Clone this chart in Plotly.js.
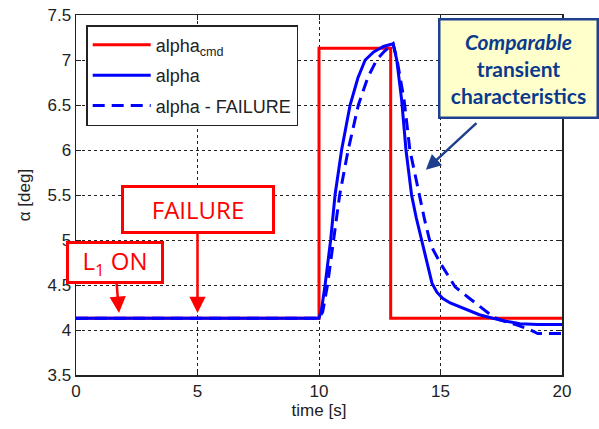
<!DOCTYPE html>
<html>
<head>
<meta charset="utf-8">
<script src="https://cdn.plot.ly/plotly-3.0.1.min.js"></script>
<style>html,body{margin:0;padding:0;background:#fff;}#chart{width:599px;height:429px;}</style>
</head>
<body>
<div id="chart"></div>
<script>
// alpha command (step)
const timeCmd = [0, 10, 10, 12.95, 12.95, 20];
const alphaCmd = [4.13, 4.13, 7.13, 7.13, 4.13, 4.13];

// alpha response (nominal)
const timeAlpha = [0, 10, 10.1, 10.25, 10.48, 10.66, 10.93, 11.28, 11.6, 11.9, 12.25, 12.65, 12.9, 13.05, 13.2, 13.4, 13.58, 13.81, 14.0, 14.16, 14.43, 14.65, 14.85, 15.1, 15.4, 15.94, 16.6, 17.45, 18.27, 19, 20];
const alpha = [4.13, 4.13, 4.22, 4.5, 5.0, 5.5, 6.0, 6.5, 6.8, 7.0, 7.09, 7.15, 7.17, 7.18, 7.0, 6.56, 6.0, 5.5, 5.25, 5.07, 4.74, 4.52, 4.42, 4.35, 4.3, 4.24, 4.17, 4.11, 4.07, 4.06, 4.06];

// alpha response with failure
const timeFail = [0, 10, 10.15, 10.35, 10.6, 10.85, 11.2, 11.62, 12.0, 12.37, 12.7, 12.95, 13.05, 13.2, 13.5, 13.74, 13.93, 14.13, 14.35, 14.55, 14.7, 15.0, 15.39, 15.6, 16.2, 16.4, 17.0, 17.2, 17.6, 18.1, 18.7, 19, 20];
const alphaFail = [4.13, 4.13, 4.2, 4.5, 5.0, 5.5, 6.0, 6.5, 6.8, 7.0, 7.1, 7.16, 7.18, 7.02, 6.56, 6.0, 5.75, 5.5, 5.22, 5.0, 4.89, 4.74, 4.57, 4.48, 4.35, 4.31, 4.19, 4.14, 4.1, 4.06, 4.0, 3.96, 3.96];

const xTicks = [0, 5, 10, 15, 20];
const yTicks = [3.5, 4, 4.5, 5, 5.5, 6, 6.5, 7, 7.5];

const traces = [
  {x: timeCmd, y: alphaCmd, type: 'scatter', mode: 'lines', name: 'alpha<sub>cmd</sub>',
   line: {color: '#ff0000', width: 3}, legendgroup: 'a'},
  {x: timeAlpha, y: alpha, type: 'scatter', mode: 'lines', name: 'alpha',
   line: {color: '#0000ff', width: 3}, legendgroup: 'b'},
  {x: timeFail, y: alphaFail, type: 'scatter', mode: 'lines', name: 'alpha - FAILURE',
   line: {color: '#0000ff', width: 3, dash: '12px,7px'}, legendgroup: 'c'}
];

const axisCommon = {
  showgrid: true, gridcolor: '#222', griddash: 'dot', gridwidth: 1,
  showline: true, linecolor: '#222', linewidth: 1.5, mirror: 'ticks',
  ticks: 'inside', ticklen: 5, tickcolor: '#222', zeroline: false,
  tickfont: {family: 'Liberation Sans, Arial, sans-serif', size: 17, color: '#222'}
};

const layout = {
  width: 599, height: 429,
  margin: {l: 76, r: 37, t: 15, b: 54},
  paper_bgcolor: '#fff', plot_bgcolor: '#fff',
  font: {family: 'Liberation Sans, Arial, sans-serif', color: '#222'},
  xaxis: Object.assign({}, axisCommon, {
    range: [0, 20], tickvals: xTicks, ticktext: xTicks.map(String),
    title: {text: 'time [s]', font: {size: 17, color: '#222'}, standoff: 4}
  }),
  yaxis: Object.assign({}, axisCommon, {
    range: [3.5, 7.5], tickvals: yTicks, ticktext: yTicks.map(String),
    title: {text: 'α [deg]', font: {size: 17, color: '#222'}, standoff: 12}
  }),
  showlegend: true,
  legend: {
    x: 0.021, y: 0.972, xanchor: 'left', yanchor: 'top',
    bgcolor: '#fff', bordercolor: '#222', borderwidth: 1.5,
    font: {family: 'Liberation Sans, Arial, sans-serif', size: 18, color: '#222'},
    traceorder: 'grouped', tracegroupgap: 4, itemwidth: 58
  },
  annotations: [
    {x: 5, y: 4.19, xref: 'x', yref: 'y', ax: 0, ay: -103, axref: 'pixel', ayref: 'pixel',
     text: 'FAILURE', showarrow: true, arrowhead: 2, arrowsize: 1.3, arrowwidth: 2.5, arrowcolor: '#ff0000',
     font: {family: 'Open Sans, Arial, sans-serif', size: 24, color: '#ff0000'},
     bgcolor: '#fff', bordercolor: '#ff0000', borderwidth: 3, width: 146, height: 41},
    {x: 1.77, y: 4.19, xref: 'x', yref: 'y', ax: -4, ay: -50, axref: 'pixel', ayref: 'pixel',
     text: 'L<sub>1</sub> ON', showarrow: true, arrowhead: 2, arrowsize: 1.3, arrowwidth: 2.5, arrowcolor: '#ff0000',
     font: {family: 'Open Sans, Arial, sans-serif', size: 24, color: '#ff0000'},
     bgcolor: '#fff', bordercolor: '#ff0000', borderwidth: 3, width: 90, height: 35},
    {x: 14.4, y: 5.78, xref: 'x', yref: 'y', ax: 52, ay: -48,
     text: '', showarrow: true, arrowhead: 2, arrowsize: 1.2, arrowwidth: 2.5, arrowcolor: '#1f3f8f'},
    {x: 18.2, y: 6.91, xref: 'x', yref: 'y', showarrow: false,
     text: '<b><i>Comparable</i></b><br><b>transient</b><br><b>characteristics</b>',
     font: {family: 'Lato, Open Sans, sans-serif', size: 21, color: '#0b3a8c'},
     bgcolor: '#ffffcc', bordercolor: '#1f3f8f', borderwidth: 2.5, width: 154, height: 94, align: 'center'}
  ]
};

Plotly.newPlot('chart', traces, layout, {displayModeBar: false, staticPlot: true});
</script>
</body>
</html>
